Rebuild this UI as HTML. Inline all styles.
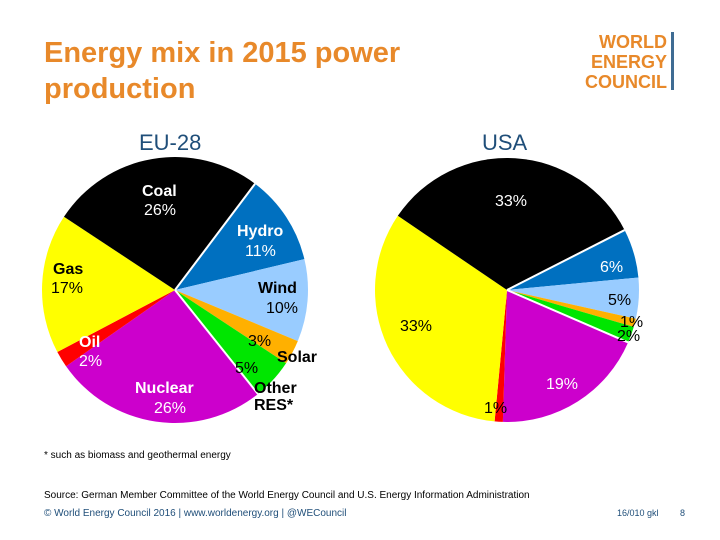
<!DOCTYPE html>
<html><head><meta charset="utf-8"><style>
html,body{margin:0;padding:0;background:#fff;}
svg{display:block;font-family:"Liberation Sans",Arial,sans-serif;}
</style></head><body>
<svg id="chart" width="720" height="540" viewBox="0 0 720 540">
  <text x="44" y="62" font-size="29" font-weight="bold" fill="#E8892A">Energy mix in 2015 power</text>
  <text x="44" y="98" font-size="29" font-weight="bold" fill="#E8892A">production</text>
  <g font-weight="bold" fill="#E8892A" font-size="18" text-anchor="end">
    <text x="667" y="48">WORLD</text>
    <text x="667" y="68">ENERGY</text>
    <text x="667" y="88">COUNCIL</text>
    <rect x="671" y="32" width="3" height="58" fill="#3F6C93"></rect>
  </g>
  <text x="139" y="150" font-size="22" fill="#1F4E79">EU-28</text>
  <text x="482" y="150" font-size="22" fill="#1F4E79">USA</text>
  <g id="eu"></g>
  <g id="us"></g>
  <g font-size="16">
    <text x="142" y="196" fill="#fff" font-weight="bold">Coal</text>
    <text x="144" y="215" fill="#fff">26%</text>
    <text x="237" y="236" fill="#fff" font-weight="bold">Hydro</text>
    <text x="245" y="256" fill="#fff">11%</text>
    <text x="258" y="293" fill="#000" font-weight="bold">Wind</text>
    <text x="266" y="313" fill="#000">10%</text>
    <text x="53" y="274" fill="#000" font-weight="bold">Gas</text>
    <text x="51" y="293" fill="#000">17%</text>
    <text x="79" y="347" fill="#fff" font-weight="bold">Oil</text>
    <text x="79" y="366" fill="#fff">2%</text>
    <text x="135" y="393" fill="#fff" font-weight="bold">Nuclear</text>
    <text x="154" y="413" fill="#fff">26%</text>
    <text x="248" y="346" fill="#000">3%</text>
    <text x="277" y="362" fill="#000" font-weight="bold">Solar</text>
    <text x="235" y="373" fill="#000">5%</text>
    <text x="254" y="393" fill="#000" font-weight="bold">Other</text>
    <text x="254" y="410" fill="#000" font-weight="bold">RES*</text>
  </g>
  <g font-size="16">
    <text x="495" y="206" fill="#fff">33%</text>
    <text x="600" y="272" fill="#fff">6%</text>
    <text x="608" y="305" fill="#000">5%</text>
    <text x="620" y="327" fill="#000">1%</text>
    <text x="617" y="341" fill="#000">2%</text>
    <text x="400" y="331" fill="#000">33%</text>
    <text x="546" y="389" fill="#fff">19%</text>
    <text x="484" y="413" fill="#000">1%</text>
  </g>
  <text x="44" y="458" font-size="10" fill="#000">* such as biomass and geothermal energy</text>
  <text x="44" y="498" font-size="10" fill="#000">Source: German Member Committee of the World Energy Council and U.S. Energy Information Administration</text>
  <text x="44" y="516" font-size="10" fill="#1F4E79">© World Energy Council 2016  |  www.worldenergy.org  |  @WECouncil</text>
  <text x="617" y="516" font-size="9" fill="#1F4E79">16/010 gkl</text>
  <text x="680" y="516" font-size="9" fill="#1F4E79">8</text>
</svg>
<script>
const categories = ["Hydro","Wind","Solar","Other RES","Nuclear","Oil","Gas","Coal"];
const euValues = [11,10,3,5,26,2,17,26];
const usValues = [6,5,1,2,19,1,33,33];
const colors = ["#0070C0","#99CCFF","#FFB000","#00E600","#CC00CC","#FF0000","#FFFF00","#000000"];
const NS="http://www.w3.org/2000/svg";
function drawPie(gid, values, cx, cy, r, startDeg){
  const g=document.getElementById(gid);
  const total=values.reduce((a,b)=>a+b,0);
  let a=startDeg;
  const pt=(deg)=>{const t=deg*Math.PI/180;return [cx+r*Math.sin(t), cy-r*Math.cos(t)];};
  const bounds=[];
  values.forEach((v,i)=>{
    const sweep=v/total*360;
    const p0=pt(a), p1=pt(a+sweep);
    const path=document.createElementNS(NS,"path");
    path.setAttribute("d",`M${cx},${cy} L${p0[0]},${p0[1]} A${r},${r} 0 ${sweep>180?1:0} 1 ${p1[0]},${p1[1]} Z`);
    path.setAttribute("fill",colors[i]);
    
    
    g.appendChild(path);
    bounds.push(a);
    a+=sweep;
  });
  [bounds[0],bounds[4]].forEach(d=>{
    const p=pt(d);
    const ln=document.createElementNS(NS,"line");
    ln.setAttribute("x1",cx);ln.setAttribute("y1",cy);
    ln.setAttribute("x2",p[0]);ln.setAttribute("y2",p[1]);
    ln.setAttribute("stroke","#fff");ln.setAttribute("stroke-width","2");
    
    
    g.appendChild(ln);
  });
}
drawPie("eu", euValues, 175, 290, 133, 37);
drawPie("us", usValues, 507, 290, 132, 63);
</script>
</body></html>
